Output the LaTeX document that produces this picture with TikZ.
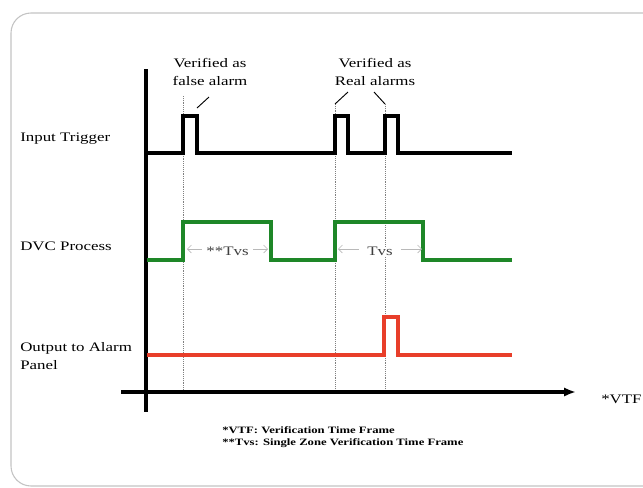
\documentclass[tikz,border=0pt]{standalone}
\usepackage{fontspec}
\setmainfont[FakeStretch=1.3]{Liberation Serif}
\usetikzlibrary{arrows.meta,positioning,calc}
\definecolor{dvcgreen}{RGB}{30,135,40}
\definecolor{outred}{RGB}{232,62,42}
\definecolor{framegray}{RGB}{195,195,195}

\begin{document}
\begin{tikzpicture}[x=0.75pt,y=-0.75pt,>=Latex,
 lbl/.style={font=\fontsize{9.75}{13.5}\selectfont,inner sep=0pt},
 sig/.style={line width=2.6pt},
 guide/.style={densely dotted,gray,line width=0.4pt},
 pointer/.style={line width=0.7pt},
 tvs/.style={{Straight Barb[length=3pt]}-{Straight Barb[length=3pt]},gray!55,line width=0.5pt}]
\useasboundingbox (0,0) rectangle (643,487);
\clip (0,0) rectangle (643,487);
\draw[framegray,line width=0.8pt,rounded corners=15] (11,13) rectangle (680,486);
\node[lbl,anchor=west] (inlbl) at (20,139) {Input Trigger};
\node[lbl,anchor=west] (dvclbl) at (20,246) {DVC Process};
\node[lbl,anchor=west,align=left] (outlbl) at (20,356) {Output to Alarm\\Panel};
\node[lbl,align=center] (falsetxt) at (210,72) {Verified as\\false alarm};
\node[lbl,align=center] (realtxt) at (375,72) {Verified as\\Real alarms};
\node[lbl,anchor=west] (vtf) at (601,399) {*VTF};
\node[font=\bfseries\fontsize{7.3}{9.4}\selectfont,align=left,anchor=north west,inner sep=0pt] (notes) at (222,426)
 {*VTF: Verification Time Frame\\**Tvs: Single Zone Verification Time Frame};
\coordinate (g1) at (183,96);\coordinate (g2) at (335,104);\coordinate (g3) at (385,104);
\coordinate (b1) at (183,392);\coordinate (b2) at (335,392);\coordinate (b3) at (385,392);
\draw[guide](g1)--(b1);\draw[guide](g2)--(b2);\draw[guide](g3)--(b3);
\coordinate (p1) at (209,97);\coordinate (p2) at (348,92);\coordinate (p3) at (374,92);
\coordinate (q1) at (197,108);
\draw[pointer](q1)--(p1);\draw[pointer](g2)--(p2);\draw[pointer](g3)--(p3);
\coordinate (ytop) at (146,69);\coordinate (ybot) at (146,412);
\coordinate (xl) at (121,392);\coordinate (xr) at (576,392);
\draw[line width=2.6pt](ytop)--(ybot);
\draw[line width=2.6pt,-{Latex[length=9pt,width=7pt]}](xl)--(xr);
\draw[sig](147,153)-|(183,116)-|(197,153)-|(335,116)-|(348,153)-|(385,116)-|(398,153)--(512,153);
\draw[sig,dvcgreen](147,260)-|(183,222)-|(271,260)-|(335,222)-|(423,260)--(512,260);
\draw[sig,outred](147,355)-|(384,317)-|(398,355)--(512,355);
\coordinate (t1a) at (187,249);\coordinate (t1b) at (268,249);
\coordinate (t2a) at (338,249);\coordinate (t2b) at (422,249);
\draw[tvs](t1a)--node[lbl,fill=white,text=black!75,inner xsep=3pt,yshift=-2pt](tvs1){**Tvs}(t1b);
\draw[tvs](t2a)--node[lbl,fill=white,text=black!75,inner xsep=6pt,yshift=-2pt](tvs2){Tvs}(t2b);
\end{tikzpicture}
\end{document}
